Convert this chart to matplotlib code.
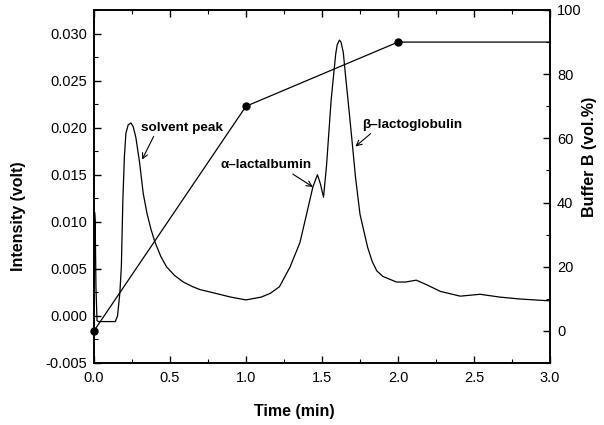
import numpy as np
import matplotlib.pyplot as plt
from matplotlib.ticker import MultipleLocator, FormatStrFormatter

plt.rcParams['font.family'] = ['Liberation Sans', 'DejaVu Sans']

# chromatogram trace (time in min, intensity in volt)
time = [0.000, 0.004, 0.008, 0.013, 0.020, 0.030, 0.080, 0.140, 0.155, 0.170, 0.180,
        0.190, 0.200, 0.210, 0.225, 0.243, 0.258, 0.275, 0.300, 0.324, 0.350,
        0.375, 0.400, 0.440, 0.478, 0.530, 0.588, 0.650, 0.697, 0.800, 0.900,
        1.000, 1.100, 1.160, 1.220, 1.290, 1.355, 1.410, 1.440, 1.470, 1.490,
        1.510, 1.530, 1.560, 1.590, 1.600, 1.615, 1.625, 1.640, 1.655, 1.680,
        1.700, 1.720, 1.750, 1.800, 1.830, 1.860, 1.900, 1.930, 1.990, 2.050,
        2.120, 2.190, 2.280, 2.410, 2.540, 2.670, 2.800, 3.000]
intensity = [0.0000, 0.0110, 0.0100, 0.0030, -0.0005, -0.0006, -0.0006, -0.0006,
             0.0000, 0.0024, 0.0052, 0.0123, 0.0169, 0.0194, 0.0203, 0.0205,
             0.0201, 0.0190, 0.0163, 0.0130, 0.0108, 0.0092, 0.0079, 0.0063,
             0.0052, 0.0043, 0.0036, 0.0031, 0.0028, 0.0024, 0.0020, 0.0017,
             0.0020, 0.0024, 0.0031, 0.0052, 0.0078, 0.0116, 0.0137, 0.0150,
             0.0140, 0.0126, 0.0160, 0.0229, 0.0278, 0.0288, 0.0293, 0.0291,
             0.0280, 0.0255, 0.0215, 0.0182, 0.0148, 0.0108, 0.0073, 0.0058,
             0.0048, 0.0042, 0.0040, 0.0036, 0.0036, 0.0038, 0.0033, 0.0026,
             0.0021, 0.0023, 0.0020, 0.0018, 0.0016]

# gradient program
grad_time = [0.0, 1.0, 2.0, 3.0]
buffer_b = [0, 70, 90, 90]

fig = plt.figure(figsize=(6.04, 4.25), dpi=100)
ax = fig.add_axes([0.1556, 0.1459, 0.7550, 0.8306])
ax2 = ax.twinx()

ax.plot(time, intensity, color='black', lw=0.9)
ax2.plot(grad_time, buffer_b, color='black', lw=0.9, marker='o', ms=5,
         markevery=[0, 1, 2], clip_on=False, zorder=5)

ax.set_xlim(0, 3.0)
ax.set_ylim(-0.005, 0.0325)
ax2.set_ylim(-10, 100)

ax.xaxis.set_major_locator(MultipleLocator(0.5))
ax.xaxis.set_minor_locator(MultipleLocator(0.25))
ax.xaxis.set_major_formatter(FormatStrFormatter('%.1f'))
ax.yaxis.set_major_locator(MultipleLocator(0.005))
ax.yaxis.set_minor_locator(MultipleLocator(0.0025))
ax.yaxis.set_major_formatter(FormatStrFormatter('%.3f'))
ax2.yaxis.set_major_locator(MultipleLocator(20))
ax2.yaxis.set_minor_locator(MultipleLocator(10))

ax.tick_params(which='both', direction='in', top=True, right=False, labelsize=10.5)
ax.tick_params(axis='x', pad=6)
ax.tick_params(axis='y', pad=5)
ax.tick_params(which='major', length=5, width=1)
ax.tick_params(which='minor', length=3, width=0.8)
ax2.tick_params(which='both', direction='in', labelsize=10.5, pad=5)
ax2.tick_params(which='major', length=5, width=1)
ax2.tick_params(which='minor', length=3, width=0.8)
for a in (ax, ax2):
    for s in a.spines.values():
        s.set_linewidth(1.2)

ax.set_xlabel('Time (min)', fontsize=11.5, fontweight='bold')
ax.set_ylabel('Intensity (volt)', fontsize=11.5, fontweight='bold')
ax2.set_ylabel('Buffer B (vol.%)', fontsize=11.5, fontweight='bold')
ax.xaxis.set_label_coords(0.44, -0.116)
ax.yaxis.set_label_coords(-0.149, 0.416)
ax2.yaxis.set_label_coords(1.070, 0.584)

arrow = dict(arrowstyle='->', color='black', lw=0.8, shrinkA=0, shrinkB=0)
ax.annotate('solvent peak', xy=(0.316, 0.0166), xytext=(0.31, 0.0200),
            fontsize=9.7, fontweight='bold', va='center', ha='left',
            arrowprops=dict(arrow, relpos=(0.17, 0.0)))
ax.annotate('\u03b1\u2013lactalbumin', xy=(1.44, 0.0137), xytext=(0.83, 0.0160),
            fontsize=9.7, fontweight='bold', va='center', ha='left',
            arrowprops=dict(arrow, relpos=(0.75, 0.0)))
ax.annotate('\u03b2\u2013lactoglobulin', xy=(1.72, 0.0180), xytext=(1.763, 0.0203),
            fontsize=9.7, fontweight='bold', va='center', ha='left',
            arrowprops=dict(arrow, relpos=(0.12, 0.0)))

fig.savefig('out.png', dpi=100)
